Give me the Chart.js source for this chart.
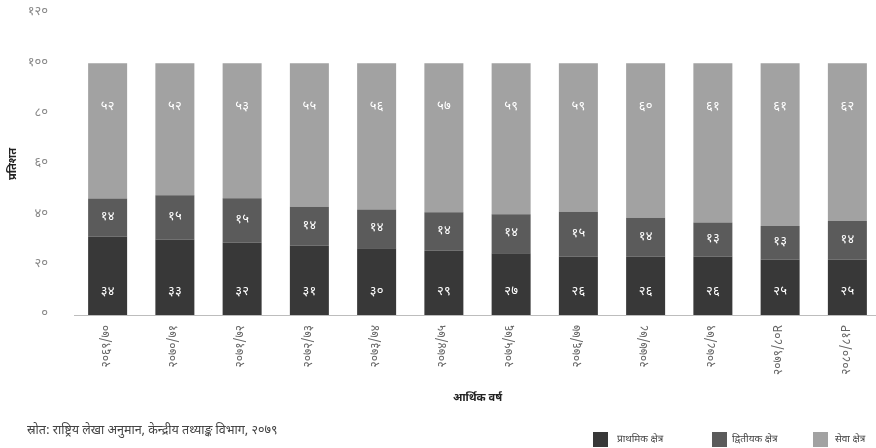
<!DOCTYPE html>
<html>
<head>
<meta charset="utf-8">
<script src="https://cdn.jsdelivr.net/npm/chart.js@4.4.0/dist/chart.umd.min.js"></script>
<style>
  html, body { margin: 0; padding: 0; background: #fff; overflow: hidden; }
  #wrap { width: 884px; height: 448px; position: relative; }
</style>
</head>
<body>
<div id="wrap"><canvas id="sectorChart"></canvas></div>
<script>
// Chart data
const years = ['२०६९/७०', '२०७०/७१', '२०७१/७२', '२०७२/७३', '२०७३/७४', '२०७४/७५',
  '२०७५/७६', '२०७६/७७', '२०७७/७८', '२०७८/७९', '२०७९/८०R', '२०८०/८१P'];
// bar heights as drawn in the picture (percent)
const primary = [31.1, 30.0, 28.7, 27.5, 26.5, 25.5, 24.5, 23.1, 23.1, 23.1, 22.1, 22.1];
const secondary = [15.2, 17.6, 17.7, 15.5, 15.4, 15.3, 15.5, 17.9, 15.5, 13.7, 13.3, 15.3];
const services = [53.7, 52.4, 53.6, 57.0, 58.1, 59.2, 60.0, 59.0, 61.4, 63.2, 64.6, 62.6];
// value labels printed on the bars
const primaryLabels = ['३४', '३३', '३२', '३१', '३०', '२९', '२७', '२६', '२६', '२६', '२५', '२५'];
const secondaryLabels = ['१४', '१५', '१५', '१४', '१४', '१४', '१४', '१५', '१४', '१३', '१३', '१४'];
const servicesLabels = ['५२', '५२', '५३', '५५', '५६', '५७', '५९', '५९', '६०', '६१', '६१', '६२'];
const seriesNames = ['प्राथमिक क्षेत्र', 'द्वितीयक क्षेत्र', 'सेवा क्षेत्र'];
const yTicks = [0, 20, 40, 60, 80, 100, 120];

const FONT = "'Noto Sans Devanagari', 'Noto Sans', 'DejaVu Sans', sans-serif";
const colors = ['#383838', '#5b5b5b', '#a2a2a2'];
const labelSets = [primaryLabels, secondaryLabels, servicesLabels];

// convert western digits to Devanagari digits
function toNep(v) {
  const d = '०१२३४५६७८९';
  return String(v).replace(/[0-9]/g, c => d[c]);
}

// white value labels inside the stacked segments
const segmentLabels = {
  id: 'segmentLabels',
  afterDatasetsDraw(chart) {
    const ctx = chart.ctx;
    ctx.save();
    ctx.fillStyle = '#ffffff';
    ctx.font = '13px ' + FONT;
    ctx.textAlign = 'center';
    ctx.textBaseline = 'middle';
    chart.data.datasets.forEach((ds, di) => {
      chart.getDatasetMeta(di).data.forEach((bar, i) => {
        let y;
        if (di === 0) y = bar.base - 22;               // near bottom
        else if (di === 1) y = (bar.y + bar.base) / 2; // centred
        else y = bar.y + 44;                           // near top
        ctx.fillText(labelSets[di][i], bar.x, y);
      });
    });
    ctx.restore();
  }
};

// source note and legend at the bottom
const footer = {
  id: 'footer',
  afterDraw(chart) {
    const ctx = chart.ctx;
    ctx.save();
    ctx.textBaseline = 'middle';
    ctx.textAlign = 'left';
    ctx.font = '12.5px ' + FONT;
    ctx.fillStyle = '#444';
    ctx.fillText('स्रोत: राष्ट्रिय लेखा अनुमान, केन्द्रीय तथ्याङ्क विभाग, २०७९', 27, 432);

    ctx.font = '10px ' + FONT;
    const boxes = [593, 712, 813];
    const gaps = [24, 20, 22];
    seriesNames.forEach((name, i) => {
      ctx.fillStyle = colors[i];
      ctx.fillRect(boxes[i], 432, 15, 15);
      ctx.fillStyle = '#444';
      ctx.fillText(name, boxes[i] + gaps[i], 440);
    });
    ctx.restore();
  }
};

const ctx = document.getElementById('sectorChart').getContext('2d');
const sectorChart = new Chart(ctx, {
  type: 'bar',
  data: {
    labels: years,
    datasets: [primary, secondary, services].map((d, i) => ({
      label: seriesNames[i],
      data: d,
      backgroundColor: colors[i],
      borderWidth: 0,
      categoryPercentage: 1,
      barPercentage: 0.58
    }))
  },
  options: {
    responsive: true,
    maintainAspectRatio: false,
    animation: false,
    layout: { padding: { top: 13, right: 3, bottom: 40, left: 0 } },
    plugins: {
      legend: { display: false },
      tooltip: { enabled: false }
    },
    scales: {
      x: {
        stacked: true,
        grid: { display: false, drawTicks: false },
        border: { display: true, color: '#bdbdbd', width: 1 },
        ticks: {
          minRotation: 90,
          maxRotation: 90,
          padding: 10,
          color: '#666',
          font: { family: FONT, size: 12 }
        },
        title: {
          display: true,
          text: 'आर्थिक वर्ष',
          color: '#222',
          font: { family: FONT, size: 11, weight: 'bold' },
          padding: { top: 0, bottom: 2 }
        },
        afterFit(scale) {
          scale.height = 93;
          scale.paddingLeft = 0;
          scale.paddingRight = 0;
        }
      },
      y: {
        stacked: true,
        min: 0,
        max: 120,
        afterBuildTicks(scale) { scale.ticks = yTicks.map(v => ({ value: v })); },
        grid: { display: false, drawTicks: false },
        border: { display: false },
        ticks: {
          padding: 26,
          color: '#888',
          font: { family: FONT, size: 13 },
          callback: v => toNep(v)
        },
        title: {
          display: true,
          text: 'प्रतिशत',
          color: '#222',
          font: { family: FONT, size: 11, weight: 'bold' },
          padding: { top: 7, bottom: 0 }
        },
        afterFit(scale) {
          scale.width = 74;
          scale.paddingTop = 0;
          scale.paddingBottom = 0;
        }
      }
    }
  },
  plugins: [segmentLabels, footer]
});
</script>
</body>
</html>
